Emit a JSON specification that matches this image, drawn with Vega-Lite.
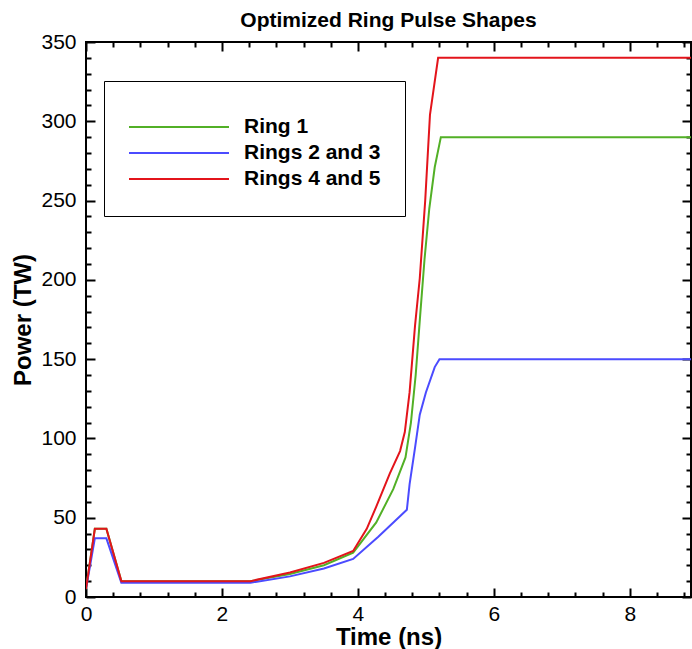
{
  "$schema": "https://vega.github.io/schema/vega-lite/v6.json",
  "autosize": {"type": "none"},
  "padding": {"left": 86, "top": 42, "right": 1, "bottom": 52},
  "width": 605,
  "height": 555,
  "background": "white",
  "title": {"text": "Optimized Ring Pulse Shapes", "font": "Liberation Sans", "fontSize": 21, "fontWeight": "bold", "color": "black", "anchor": "middle", "offset": 0},
  "config": {
    "view": {"stroke": "black", "strokeWidth": 2},
    "axis": {"grid": false, "domain": false, "tickColor": "black", "tickWidth": 2, "labelColor": "black", "titleColor": "black", "labelFont": "Liberation Sans", "titleFont": "Liberation Sans", "labelFontSize": 21, "titleFontSize": 24, "titleFontWeight": "bold", "labelOverlap": false, "labelFlush": false}
  },
  "data": {"values": [
    {"series": "Ring 1", "t": 0, "P": 5},
    {"series": "Ring 1", "t": 0.13, "P": 43},
    {"series": "Ring 1", "t": 0.3, "P": 43},
    {"series": "Ring 1", "t": 0.52, "P": 10},
    {"series": "Ring 1", "t": 2.42, "P": 10},
    {"series": "Ring 1", "t": 3.0, "P": 14.5},
    {"series": "Ring 1", "t": 3.5, "P": 20},
    {"series": "Ring 1", "t": 3.93, "P": 28},
    {"series": "Ring 1", "t": 4.27, "P": 47},
    {"series": "Ring 1", "t": 4.52, "P": 68},
    {"series": "Ring 1", "t": 4.7, "P": 88},
    {"series": "Ring 1", "t": 4.78, "P": 110},
    {"series": "Ring 1", "t": 4.85, "P": 140},
    {"series": "Ring 1", "t": 4.92, "P": 180},
    {"series": "Ring 1", "t": 4.98, "P": 213},
    {"series": "Ring 1", "t": 5.05, "P": 245},
    {"series": "Ring 1", "t": 5.13, "P": 271},
    {"series": "Ring 1", "t": 5.22, "P": 290},
    {"series": "Ring 1", "t": 8.9, "P": 290},
    {"series": "Rings 2 and 3", "t": 0, "P": 5},
    {"series": "Rings 2 and 3", "t": 0.13, "P": 37},
    {"series": "Rings 2 and 3", "t": 0.3, "P": 37},
    {"series": "Rings 2 and 3", "t": 0.52, "P": 9},
    {"series": "Rings 2 and 3", "t": 2.42, "P": 9},
    {"series": "Rings 2 and 3", "t": 3.0, "P": 13},
    {"series": "Rings 2 and 3", "t": 3.5, "P": 18},
    {"series": "Rings 2 and 3", "t": 3.93, "P": 24},
    {"series": "Rings 2 and 3", "t": 4.3, "P": 38},
    {"series": "Rings 2 and 3", "t": 4.72, "P": 55},
    {"series": "Rings 2 and 3", "t": 4.76, "P": 71},
    {"series": "Rings 2 and 3", "t": 4.84, "P": 94},
    {"series": "Rings 2 and 3", "t": 4.91, "P": 115},
    {"series": "Rings 2 and 3", "t": 5.0, "P": 129},
    {"series": "Rings 2 and 3", "t": 5.13, "P": 145},
    {"series": "Rings 2 and 3", "t": 5.2, "P": 150},
    {"series": "Rings 2 and 3", "t": 8.9, "P": 150},
    {"series": "Rings 4 and 5", "t": 0, "P": 5},
    {"series": "Rings 4 and 5", "t": 0.13, "P": 43},
    {"series": "Rings 4 and 5", "t": 0.3, "P": 43},
    {"series": "Rings 4 and 5", "t": 0.52, "P": 10},
    {"series": "Rings 4 and 5", "t": 2.42, "P": 10},
    {"series": "Rings 4 and 5", "t": 3.0, "P": 15.5},
    {"series": "Rings 4 and 5", "t": 3.5, "P": 21.5},
    {"series": "Rings 4 and 5", "t": 3.93, "P": 29},
    {"series": "Rings 4 and 5", "t": 4.13, "P": 43},
    {"series": "Rings 4 and 5", "t": 4.27, "P": 57},
    {"series": "Rings 4 and 5", "t": 4.47, "P": 78},
    {"series": "Rings 4 and 5", "t": 4.62, "P": 92},
    {"series": "Rings 4 and 5", "t": 4.69, "P": 104},
    {"series": "Rings 4 and 5", "t": 4.76, "P": 129},
    {"series": "Rings 4 and 5", "t": 4.84, "P": 171},
    {"series": "Rings 4 and 5", "t": 4.91, "P": 201},
    {"series": "Rings 4 and 5", "t": 4.99, "P": 250},
    {"series": "Rings 4 and 5", "t": 5.06, "P": 304},
    {"series": "Rings 4 and 5", "t": 5.18, "P": 340},
    {"series": "Rings 4 and 5", "t": 8.9, "P": 340}
  ]},
  "resolve": {"axis": {"x": "independent", "y": "independent"}},
  "layer": [
    {
      "mark": {"type": "line", "strokeWidth": 2, "clip": true},
      "encoding": {
        "x": {"field": "t", "type": "quantitative", "scale": {"domain": [0, 8.9], "nice": false, "zero": false},
          "axis": {"orient": "bottom", "title": "Time (ns)", "titlePadding": -3, "format": "~g",
            "values": [0,0.4,0.8,1.2,1.6,2,2.4,2.8,3.2,3.6,4,4.4,4.8,5.2,5.6,6,6.4,6.8,7.2,7.6,8,8.4,8.8],
            "labelExpr": "datum.value % 2 === 0 ? datum.label : ''",
            "tickSize": {"condition": {"test": "datum.value % 2 === 0", "value": -9}, "value": -5},
            "labelPadding": 15}},
        "y": {"field": "P", "type": "quantitative", "scale": {"domain": [0, 350], "nice": false},
          "axis": {"orient": "left", "title": "Power (TW)", "titlePadding": 5,
            "values": [0,10,20,30,40,50,60,70,80,90,100,110,120,130,140,150,160,170,180,190,200,210,220,230,240,250,260,270,280,290,300,310,320,330,340,350],
            "labelExpr": "datum.value % 50 === 0 ? format(datum.value, 'd') : ''",
            "tickSize": {"condition": {"test": "datum.value % 50 === 0", "value": -9}, "value": -5},
            "labelPadding": 19}},
        "color": {"field": "series", "type": "nominal",
          "scale": {"domain": ["Ring 1", "Rings 2 and 3", "Rings 4 and 5"], "range": ["#52b026", "#4b4bff", "#e3141b"]},
          "legend": {"orient": "none", "legendX": 18, "legendY": 39, "title": " ", "titleFontSize": 2, "titlePadding": 7,
            "strokeColor": "black", "fillColor": "white", "padding": 24,
            "symbolType": "stroke", "symbolSize": 10000, "symbolStrokeWidth": 2,
            "labelFont": "Liberation Sans", "labelFontSize": 21, "labelFontWeight": "bold", "labelColor": "black",
            "labelOffset": 14, "clipHeight": 26, "rowPadding": 0}}
      }
    },
    {
      "mark": {"type": "line", "opacity": 0},
      "encoding": {
        "x": {"field": "t", "type": "quantitative",
          "axis": {"orient": "top", "title": null, "labels": false,
            "values": [0,0.4,0.8,1.2,1.6,2,2.4,2.8,3.2,3.6,4,4.4,4.8,5.2,5.6,6,6.4,6.8,7.2,7.6,8,8.4,8.8],
            "tickSize": {"condition": {"test": "datum.value % 2 === 0", "value": -9}, "value": -5}}},
        "y": {"field": "P", "type": "quantitative",
          "axis": {"orient": "right", "title": null, "labels": false,
            "values": [0,10,20,30,40,50,60,70,80,90,100,110,120,130,140,150,160,170,180,190,200,210,220,230,240,250,260,270,280,290,300,310,320,330,340,350],
            "tickSize": {"condition": {"test": "datum.value % 50 === 0", "value": -9}, "value": -5}}}
      }
    }
  ]
}
